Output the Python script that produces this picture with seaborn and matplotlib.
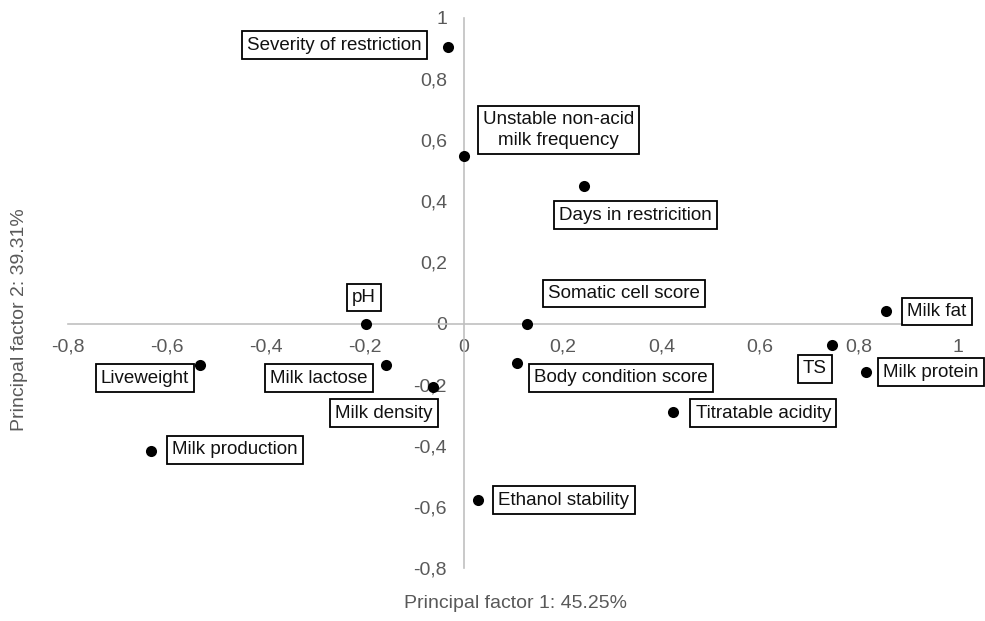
import matplotlib
matplotlib.use("Agg")
import matplotlib.pyplot as plt
import seaborn as sns
import pandas as pd
from matplotlib.ticker import FuncFormatter, MultipleLocator

# loadings
variables = [
    'Severity of restriction', 'Unstable non-acid\nmilk frequency', 'Days in restricition',
    'pH', 'Somatic cell score', 'Milk fat', 'TS', 'Milk protein',
    'Body condition score', 'Titratable acidity', 'Liveweight', 'Milk lactose',
    'Milk density', 'Milk production', 'Ethanol stability'
]
factor1 = [-0.032, 0.0, 0.243, -0.197, 0.128, 0.854, 0.745, 0.814,
           0.108, 0.424, -0.533, -0.157, -0.062, -0.632, 0.029]
factor2 = [0.905, 0.548, 0.45, 0.0, 0.0, 0.04, -0.07, -0.159,
           -0.129, -0.29, -0.136, -0.136, -0.208, -0.417, -0.578]

df = pd.DataFrame({'var': variables, 'f1': factor1, 'f2': factor2})

# where each label box sits relative to its point (pixels)
label_offsets = {
    'Severity of restriction': (-113, 2),
    'Unstable non-acid\nmilk frequency': (95, 26),
    'Days in restricition': (52, -29),
    'pH': (-2, 26),
    'Somatic cell score': (97, 30),
    'Milk fat': (51, 0),
    'TS': (-17, -24),
    'Milk protein': (65, 0),
    'Body condition score': (104, -15),
    'Titratable acidity': (90, -1),
    'Liveweight': (-55, -13),
    'Milk lactose': (-67, -13),
    'Milk density': (-49, -26),
    'Milk production': (84, 1),
    'Ethanol stability': (86, 0),
}

sns.set_style("white")
plt.rcParams['font.family'] = ['Liberation Sans', 'DejaVu Sans']

fig = plt.figure(figsize=(9.85, 6.21), dpi=100)
ax = fig.add_axes([68 / 985, 53 / 621, 890 / 985, 550 / 621])

sns.scatterplot(data=df, x='f1', y='f2', color='black', s=64, edgecolor='black',
                linewidth=0, ax=ax, zorder=4)

ax.set_xlim(-0.8, 1.0)
ax.set_ylim(-0.8, 1.0)

# axes crossing at the origin
for side in ['top', 'right']:
    ax.spines[side].set_visible(False)
ax.spines['bottom'].set_position(('data', 0))
ax.spines['left'].set_position(('data', 0))
for side in ['bottom', 'left']:
    ax.spines[side].set_color('#c0c0c0')
    ax.spines[side].set_linewidth(1.2)

ax.xaxis.set_major_locator(MultipleLocator(0.2))
ax.yaxis.set_major_locator(MultipleLocator(0.2))
fmt = FuncFormatter(lambda v, p: f"{round(v, 1) + 0:g}".replace('.', ','))
ax.xaxis.set_major_formatter(fmt)
ax.yaxis.set_major_formatter(fmt)
ax.tick_params(axis='x', length=0, pad=11, labelsize=14, labelcolor='#595959')
ax.tick_params(axis='y', length=0, pad=12, labelsize=14, labelcolor='#595959')
ax.set_xlabel('')
ax.set_ylabel('')

# boxed labels
for name, x, y in zip(df['var'], df['f1'], df['f2']):
    dx, dy = label_offsets[name]
    ax.annotate(name, (x, y), xytext=(dx, dy), textcoords='offset pixels',
                ha='center', va='center', fontsize=13.5, color='#111111',
                multialignment='center', linespacing=1.25, zorder=5,
                bbox=dict(boxstyle='square,pad=0.28', fc='white', ec='black', lw=1.3))

fig.text(515 / 985, 1 - 603 / 621, 'Principal factor 1: 45.25%', ha='center', va='center',
         fontsize=14, color='#595959')
fig.text(20 / 985, 1 - 320 / 621, 'Principal factor 2: 39.31%', ha='center', va='center',
         rotation=90, fontsize=14, color='#595959')

fig.savefig('out.png', dpi=100)
